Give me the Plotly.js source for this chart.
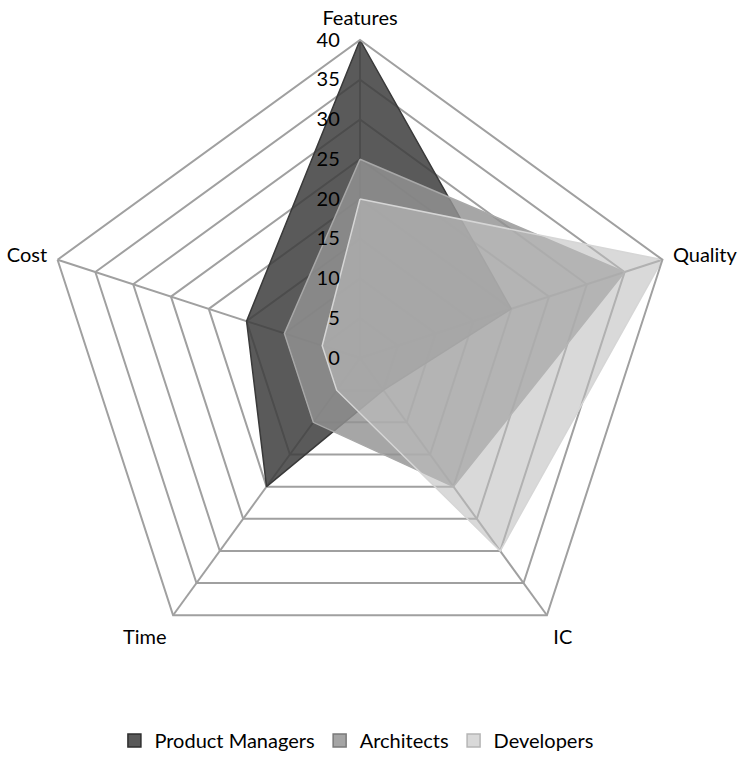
<!DOCTYPE html>
<html>
<head>
<meta charset="utf-8">
<script src="https://cdn.plot.ly/plotly-3.0.1.min.js"></script>
<style>
  html, body { margin: 0; padding: 0; background: #ffffff; }
  #chart { width: 741px; height: 760px; }
</style>
</head>
<body>
<div id="chart"></div>
<script>
// Radar chart: priorities of three roles across five dimensions
const categories = ['Features', 'Quality', 'IC', 'Time', 'Cost'];
const seriesNames = ['Product Managers', 'Architects', 'Developers'];
const productManagers = [40, 20, 5, 20, 15];
const architects = [25, 35, 20, 10, 10];
const developers = [20, 40, 30, 5, 5];
const radialTicks = [0, 5, 10, 15, 20, 25, 30, 35, 40];

// close each polygon by repeating the first point
function closed(arr) { return arr.concat([arr[0]]); }

// radial labels get a little trailing space so they clear the vertical spoke
function radialLabel(v) {
  return String(v) + '\u2007\u00a0';
}

const FONT = 'Lato, "Open Sans", sans-serif';
const GRID = '#a0a0a0';

const styles = [
  { fill: 'rgba(61,61,61,0.85)', line: '#3a3a3a', swatch: '#595959', edge: '#2e2e2e' },
  { fill: 'rgba(147,147,147,0.82)', line: '#a8a8a8', swatch: '#a5a5a5', edge: '#7a7a7a' },
  { fill: 'rgba(189,189,189,0.58)', line: '#d6d6d6', swatch: '#d9d9d9', edge: '#b5b5b5' }
];
const values = [productManagers, architects, developers];

const traces = [];
// filled polygons
values.forEach((v, i) => {
  traces.push({
    type: 'scatterpolar', name: seriesNames[i], showlegend: false,
    r: closed(v), theta: closed(categories),
    fill: 'toself', fillcolor: styles[i].fill,
    line: { color: styles[i].line, width: 1.5 }, mode: 'lines', hoverinfo: 'skip'
  });
});
// square legend swatches
values.forEach((v, i) => {
  traces.push({
    type: 'scatterpolar', name: seriesNames[i], showlegend: true,
    r: [null], theta: [null], mode: 'markers',
    marker: { symbol: 'square', size: 13, color: styles[i].swatch,
              line: { color: styles[i].edge, width: 1.5 } },
    hoverinfo: 'skip'
  });
});

const layout = {
  width: 741, height: 760,
  margin: { l: 0, r: 0, t: 0, b: 0 },
  paper_bgcolor: '#ffffff',
  font: { family: FONT, size: 20, color: '#000000' },
  showlegend: true,
  legend: {
    orientation: 'h', x: 0.481, xanchor: 'center', y: 0, yanchor: 'bottom',
    font: { family: FONT, size: 20, color: '#000000' },
    itemwidth: 30, tracegroupgap: 0
  },
  polar: {
    domain: { x: [(360 - 318) / 741, (360 + 318) / 741], y: [84 / 760, 720 / 760] },
    bgcolor: '#ffffff',
    gridshape: 'linear',
    angularaxis: {
      categoryorder: 'array', categoryarray: categories,
      direction: 'clockwise', rotation: 90,
      showline: true, linecolor: GRID, linewidth: 2,
      showgrid: true, gridcolor: GRID, gridwidth: 2,
      ticks: 'outside', ticklen: 6, tickcolor: 'rgba(0,0,0,0)',
      tickfont: { family: FONT, size: 20, color: '#000000' }
    },
    radialaxis: {
      range: [0, 40], tickvals: radialTicks, ticktext: radialTicks.map(radialLabel),
      angle: 90, side: 'counterclockwise', tickangle: 90,
      showline: false, ticks: '',
      showgrid: true, gridcolor: GRID, gridwidth: 2,
      tickfont: { family: FONT, size: 20, color: '#000000' }
    }
  }
};

Plotly.newPlot('chart', traces, layout, { staticPlot: true, displayModeBar: false });
</script>
</body>
</html>
